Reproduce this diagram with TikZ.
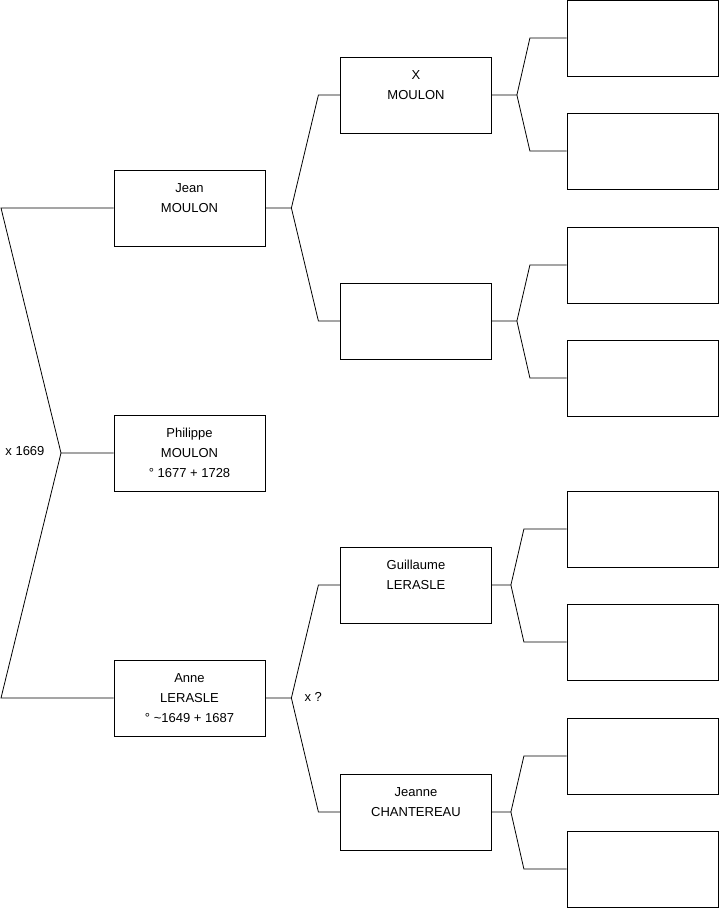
\documentclass[tikz,border=0pt]{standalone}
\usepackage{fontspec}
\setmainfont{Liberation Sans}
\usetikzlibrary{positioning}
\tikzset{
  person/.style={draw, line width=0.8pt, minimum width=151pt, minimum height=76pt,
    inner sep=0pt, align=center, font=\fontsize{13}{20}\selectfont},
  link/.style={line width=0.8pt},
}
\begin{document}
\begin{tikzpicture}[x=1pt,y=-1pt]
  \useasboundingbox (0,0) rectangle (719,908);

  % child and parents
  \node[person] (philippe) at (189.5,453) {Philippe\\MOULON\\\textdegree{} 1677 + 1728};
  \node[person] (jean) at (189.5,208) {Jean\\MOULON\\\mbox{}};
  \node[person] (anne) at (189.5,698) {Anne\\LERASLE\\\textdegree{} \textasciitilde1649 + 1687};

  % grandparents
  \node[person] (xmoulon) at (416,95) {X\\MOULON\\\mbox{}};
  \node[person] (mjean) at (416,321) {};
  \node[person] (guillaume) at (416,585) {Guillaume\\LERASLE\\\mbox{}};
  \node[person] (jeanne) at (416,812) {Jeanne\\CHANTEREAU\\\mbox{}};

  % great-grandparents
  \node[person] (r1) at (642.5,38) {};
  \node[person] (r2) at (642.5,151) {};
  \node[person] (r3) at (642.5,265) {};
  \node[person] (r4) at (642.5,378) {};
  \node[person] (r5) at (642.5,529) {};
  \node[person] (r6) at (642.5,642) {};
  \node[person] (r7) at (642.5,756) {};
  \node[person] (r8) at (642.5,869) {};

  % marriage of the parents
  \coordinate (fphil) at (61,453);
  \coordinate (cjean) at (1,208);
  \coordinate (canne) at (1,698);
  \draw[link] (philippe.west) -- (fphil) -- (cjean) -- (jean.west);
  \draw[link] (fphil) -- (canne) -- (anne.west);
  \node[font=\fontsize{13}{15}\selectfont, anchor=east] (mar1) at (48,451) {x 1669};

  % forks to the grandparents
  \draw[link] (jean.east) -- ++(26,0) coordinate (fjean) -- ++(27,-113) -- (xmoulon.west);
  \draw[link] (fjean) -- ++(27,113) -- (mjean.west);
  \draw[link] (anne.east) -- ++(26,0) coordinate (fanne) -- ++(27,-113) -- (guillaume.west);
  \draw[link] (fanne) -- ++(27,114) -- (jeanne.west);
  \node[font=\fontsize{13}{15}\selectfont, anchor=west] (mar2) at (301,697) {x ?};

  % forks to the great-grandparents
  \draw[link] (xmoulon.east) -- ++(25,0) coordinate (fx) -- ++(13,-57) -- (r1.west);
  \draw[link] (fx) -- ++(13,56) -- (r2.west);
  \draw[link] (mjean.east) -- ++(25,0) coordinate (fm) -- ++(13,-56) -- (r3.west);
  \draw[link] (fm) -- ++(13,57) -- (r4.west);
  \draw[link] (guillaume.east) -- ++(19,0) coordinate (fg) -- ++(13,-56) -- (r5.west);
  \draw[link] (fg) -- ++(13,57) -- (r6.west);
  \draw[link] (jeanne.east) -- ++(19,0) coordinate (fj) -- ++(13,-56) -- (r7.west);
  \draw[link] (fj) -- ++(13,57) -- (r8.west);
\end{tikzpicture}
\end{document}
